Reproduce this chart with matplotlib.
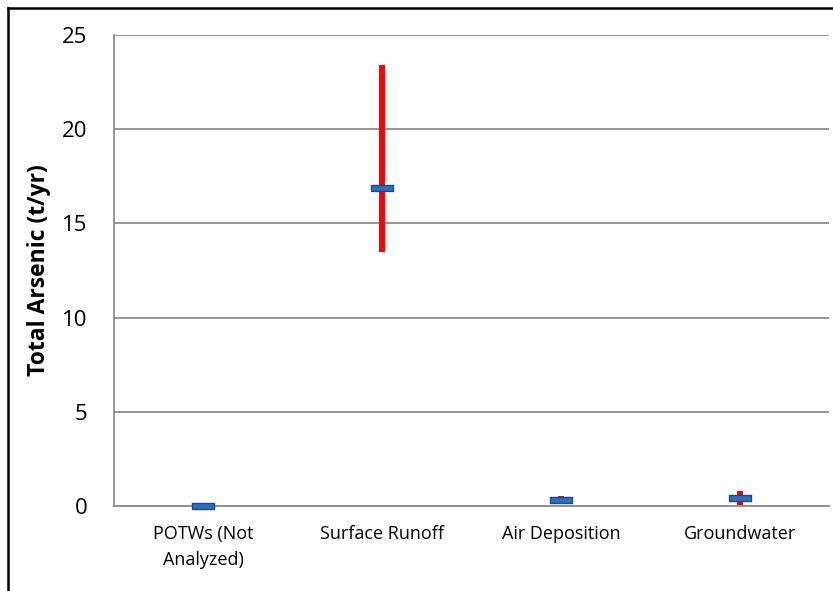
import matplotlib
matplotlib.use('Agg')
import matplotlib.pyplot as plt
from matplotlib.lines import Line2D

# arsenic loads by source (t/yr)
sources = ['POTWs (Not\nAnalyzed)', 'Surface Runoff', 'Air Deposition', 'Groundwater']
mean_load = [0.0, 16.9, 0.33, 0.45]
low_load = [0.0, 13.5, 0.22, 0.05]
high_load = [0.0, 23.4, 0.53, 0.8]
y_ticks = [0, 5, 10, 15, 20, 25]

plt.rcParams['font.family'] = ['Open Sans', 'DejaVu Sans']

fig = plt.figure(figsize=(8.33, 5.91), dpi=100)
ax = fig.add_axes([114 / 833, 1 - 506 / 591, 715 / 833, 471 / 591])

x = list(range(len(sources)))
err_lo = [m - l for m, l in zip(mean_load, low_load)]
err_hi = [h - m for m, h in zip(mean_load, high_load)]
ax.errorbar(x, mean_load, yerr=[err_lo, err_hi], fmt='none',
            ecolor='#ff0000', elinewidth=4.3, capsize=0, zorder=3)

# flat bar-shaped marker
dash = [(-1, -0.24), (1, -0.24), (1, 0.24), (-1, 0.24), (-1, -0.24)]
ax.plot(x, mean_load, linestyle='none', marker=dash, markersize=16,
        markerfacecolor='#2a6fc0', markeredgecolor='#1b4a86',
        markeredgewidth=1.0, zorder=4, clip_on=False)

ax.set_xlim(-0.5, len(sources) - 0.5)
ax.set_ylim(0, 25)
ax.set_yticks(y_ticks)
ax.set_xticks(x)
ax.set_xticklabels(sources, fontsize=13, linespacing=1.55)
ax.tick_params(axis='y', labelsize=16, length=0, pad=19)
ax.tick_params(axis='x', length=0, pad=14)
ax.set_ylabel('Total Arsenic (t/yr)', fontsize=16.5, fontweight='bold', labelpad=8)

ax.grid(axis='y', color='#8c8c8c', linewidth=1.3)
ax.set_axisbelow(True)
for s in ['top', 'right']:
    ax.spines[s].set_visible(False)
for s in ['left', 'bottom']:
    ax.spines[s].set_color('#8c8c8c')
    ax.spines[s].set_linewidth(1.3)

# outer chart frame (left and top edges)
fig.add_artist(Line2D([8 / 833, 8 / 833], [0, 1 - 8 / 591], color='black', linewidth=1.8))
fig.add_artist(Line2D([8 / 833, 1], [1 - 8 / 591, 1 - 8 / 591], color='black', linewidth=1.8))

fig.savefig('out.png', dpi=100)
